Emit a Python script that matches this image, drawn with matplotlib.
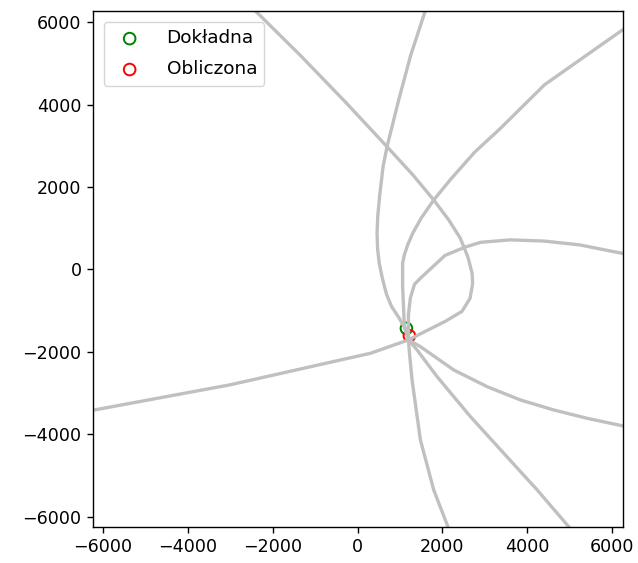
import matplotlib
matplotlib.use("Agg")
import matplotlib.pyplot as plt

# Hyperbola branches
curve_a_x = [-2430, -1350, -300, 693, 1300, 1794, 2150, 2420, 2600, 2700, 2710, 2650,
             2459, 2060, 1579, 1200, 300, -535, -3006, -6300]
curve_a_y = [6300, 5200, 4080, 2983, 2300, 1688, 1200, 760, 300, -100, -350, -700,
             -1018, -1263, -1511, -1710, -2036, -2228, -2801, -3430]

curve_b_x = [1600, 1250, 968, 693, 600, 520, 475, 458, 470, 510, 580, 680, 800, 979,
             1100, 1200, 1215, 1283, 1480, 1794, 2148]
curve_b_y = [6300, 5200, 4117, 2983, 2500, 1800, 1300, 900, 500, 150, -200, -600, -900,
             -1180, -1400, -1710, -1955, -2684, -4141, -5356, -6300]

curve_c_x = [6300, 4407, 3368, 2759, 2200, 1794, 1500, 1300, 1180, 1100, 1060, 1060,
             1100, 1200, 1401, 1873, 2660, 3446, 4234, 5020]
curve_c_y = [5860, 4488, 3430, 2850, 2200, 1688, 1250, 884, 600, 350, 150, -400,
             -1346, -1710, -1955, -2603, -3575, -4465, -5356, -6300]

curve_d_x = [6300, 5230, 4400, 3600, 2900, 2540, 2060, 1499, 1341, 1244, 1197, 1200,
             1480, 2266, 3053, 3840, 4626, 5413, 6300]
curve_d_y = [380, 598, 690, 720, 660, 546, 342, -194, -357, -687, -1098, -1710,
             -1874, -2441, -2846, -3170, -3413, -3615, -3810]

curves = [(curve_a_x, curve_a_y), (curve_b_x, curve_b_y),
          (curve_c_x, curve_c_y), (curve_d_x, curve_d_y)]

# Exact and computed positions
exact_pos = (1150, -1430)
computed_pos = (1220, -1610)


def main():
    fig = plt.figure(figsize=(6.38, 5.63), dpi=100)
    ax = fig.add_axes([0.1453, 0.0645, 0.8307, 0.916])

    for cx, cy in curves:
        ax.plot(cx, cy, color="#c0c0c0", linewidth=2.4)

    ax.scatter(*exact_pos, s=70, facecolors="none", edgecolors="green",
               linewidths=1.4, label="Dokładna")
    ax.scatter(*computed_pos, s=70, facecolors="none", edgecolors="red",
               linewidths=1.4, label="Obliczona")

    ax.set_xlim(-6245, 6248)
    ax.set_ylim(-6247, 6279)
    ax.set_xticks([-6000, -4000, -2000, 0, 2000, 4000, 6000])
    ax.set_yticks([-6000, -4000, -2000, 0, 2000, 4000, 6000])
    ax.tick_params(labelsize=12.6, length=4.4, width=1.0)
    for sp in ax.spines.values():
        sp.set_linewidth(1.0)

    ax.legend(loc="upper left", fontsize=13.3, labelspacing=0.7,
              handletextpad=1.0, borderaxespad=0.6)

    fig.savefig("out.png", dpi=100)


if __name__ == "__main__":
    main()
